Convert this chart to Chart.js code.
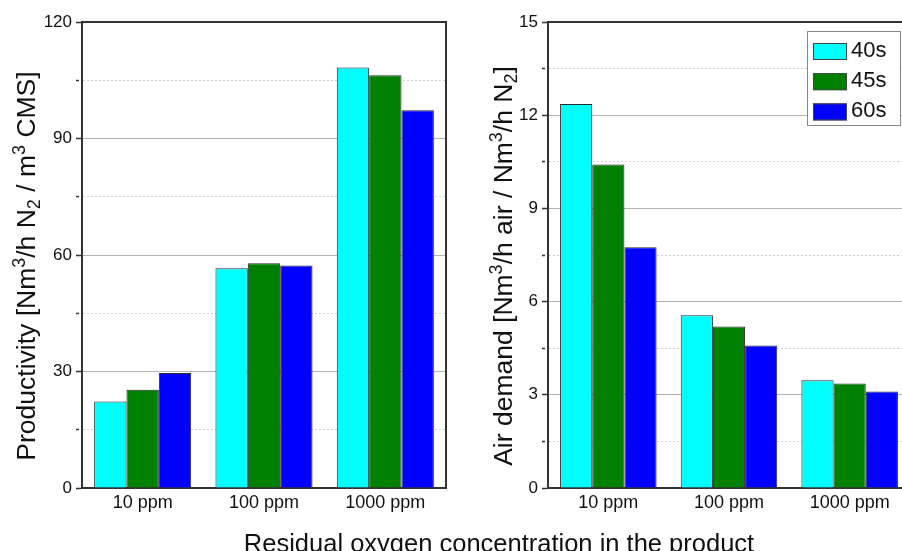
<!DOCTYPE html>
<html>
<head>
<meta charset="utf-8">
<script src="https://cdn.jsdelivr.net/npm/chart.js@4.4.0/dist/chart.umd.min.js"></script>
<style>
  html, body { margin: 0; padding: 0; background: #fff; overflow: hidden; }
  body { width: 902px; height: 551px; position: relative; }
  canvas { position: absolute; top: 0; }
  #leftChart { left: 0; }
  #rightChart { left: 466px; }
  #xTitle {
    position: absolute; left: 0; top: 529px; width: 998px; z-index: 2;
    text-align: center; line-height: 26px; color: #111;
    font: 25.5px "Liberation Sans", Arial, sans-serif;
  }
</style>
</head>
<body>
<canvas id="leftChart" width="460" height="551"></canvas>
<canvas id="rightChart" width="460" height="551"></canvas>
<div id="xTitle">Residual oxygen concentration in the product</div>
<script>
const categories = ["10 ppm", "100 ppm", "1000 ppm"];
const seriesLabels = ["40s", "45s", "60s"];
const seriesColors = ["#00ffff", "#008000", "#0000ff"];

// Productivity [Nm3/h N2 / m3 CMS]
const productivity40 = [22.3, 56.6, 108.3];
const productivity45 = [25.3, 57.9, 106.3];
const productivity60 = [29.6, 57.3, 97.3];
const productivityTicks = [0, 30, 60, 90, 120];

// Air demand [Nm3/h air / Nm3/h N2]
const airDemand40 = [12.36, 5.56, 3.47];
const airDemand45 = [10.41, 5.20, 3.36];
const airDemand60 = [7.75, 4.59, 3.11];
const airDemandTicks = [0, 3, 6, 9, 12, 15];

const productivityTitle = [
  { t: "Productivity [Nm" }, { t: "3", sup: true }, { t: "/h N" }, { t: "2", sub: true },
  { t: " / m" }, { t: "3", sup: true }, { t: " CMS]" }
];
const airDemandTitle = [
  { t: "Air demand [Nm" }, { t: "3", sup: true }, { t: "/h air / Nm" }, { t: "3", sup: true },
  { t: "/h N" }, { t: "2", sub: true }, { t: "]" }
];

const FONT = '"Liberation Sans", Arial, sans-serif';

// top + right edge of the plot box
const frame = {
  id: "frame",
  afterDatasetsDraw(chart) {
    const { ctx, chartArea: a } = chart;
    ctx.save();
    ctx.strokeStyle = "#333";
    ctx.lineWidth = 2;
    ctx.beginPath();
    ctx.moveTo(a.left, a.top);
    ctx.lineTo(a.right, a.top);
    ctx.lineTo(a.right, a.bottom);
    ctx.stroke();
    ctx.restore();
  }
};

// rotated y title with super/subscripts
function richTitle(parts, x, y) {
  return {
    id: "richTitle",
    afterDraw(chart) {
      const ctx = chart.ctx;
      const fontOf = p => (p.sup || p.sub ? "18px " : "26.5px ") + FONT;
      ctx.save();
      let total = 0;
      parts.forEach(p => { ctx.font = fontOf(p); total += ctx.measureText(p.t).width; });
      ctx.translate(x, y);
      ctx.rotate(-Math.PI / 2);
      ctx.fillStyle = "#111";
      ctx.textBaseline = "alphabetic";
      let pos = -total / 2;
      parts.forEach(p => {
        ctx.font = fontOf(p);
        ctx.fillText(p.t, pos, p.sup ? -10 : p.sub ? 5 : 0);
        pos += ctx.measureText(p.t).width;
      });
      ctx.restore();
    }
  };
}

const legendBox = {
  id: "legendBox",
  afterDraw(chart) {
    const { ctx, chartArea: a } = chart;
    const x = a.left + 259, y = a.top + 9;
    ctx.save();
    ctx.fillStyle = "#fff";
    ctx.fillRect(x, y, 93, 94);
    ctx.strokeStyle = "#888";
    ctx.lineWidth = 1;
    ctx.strokeRect(x + 0.5, y + 0.5, 93, 94);
    chart.data.datasets.forEach((ds, i) => {
      const sy = y + 12 + i * 30.2;
      ctx.fillStyle = ds.backgroundColor;
      ctx.fillRect(x + 6, sy, 34, 17);
      ctx.strokeStyle = "#444";
      ctx.strokeRect(x + 6.5, sy + 0.5, 33, 16);
      ctx.fillStyle = "#111";
      ctx.font = "22px " + FONT;
      ctx.fillText(ds.label, x + 44, sy + 14);
    });
    ctx.restore();
  }
};

function makeChart(id, series, tickLabels, max, step, padRight, plugins) {
  const isMajor = c => c.tick && tickLabels.some(v => Math.abs(v - c.tick.value) < 1e-6);
  return new Chart(document.getElementById(id), {
    type: "bar",
    data: {
      labels: categories,
      datasets: seriesLabels.map((label, i) => ({
        label: label,
        data: series[i],
        backgroundColor: seriesColors[i],
        borderColor: "#2a2a2a",
        borderWidth: 1,
        barPercentage: 1,
        categoryPercentage: 0.8
      }))
    },
    options: {
      responsive: false,
      animation: false,
      layout: { padding: { top: 22, right: padRight, left: 0, bottom: 0 } },
      plugins: { legend: { display: false }, tooltip: { enabled: false } },
      scales: {
        x: {
          ticks: { color: "#111", font: { size: 18, family: FONT }, padding: 4 },
          grid: { display: false, drawTicks: false },
          border: { color: "#333", width: 2 },
          afterFit: s => { s.height = 63; }
        },
        y: {
          min: 0,
          max: max,
          ticks: {
            stepSize: step,
            padding: 4,
            color: "#111",
            font: { size: 17, family: FONT },
            callback: v => tickLabels.some(t => Math.abs(t - v) < 1e-6) ? String(v) : ""
          },
          grid: {
            color: c => isMajor(c) ? "#b4b4b4" : "#cfcfcf",
            lineWidth: 1,
            tickColor: "#333",
            tickLength: 6,
            tickWidth: 1.5,
            tickBorderDash: c => isMajor(c) ? [] : [3, 3]
          },
          border: { color: "#333", width: 2, dash: c => (c.tick && !isMajor(c)) ? [2, 2] : [] },
          afterFit: s => { s.width = 82; }
        }
      }
    },
    plugins: plugins
  });
}

makeChart("leftChart", [productivity40, productivity45, productivity60], productivityTicks, 120, 15, 14,
  [frame, richTitle(productivityTitle, 35, 266)]);
makeChart("rightChart", [airDemand40, airDemand45, airDemand60], airDemandTicks, 15, 1.5, 16,
  [frame, legendBox, richTitle(airDemandTitle, 46, 266)]);
</script>
</body>
</html>
